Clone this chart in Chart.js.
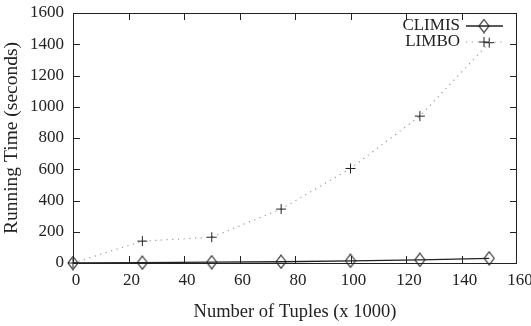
<!DOCTYPE html>
<html>
<head>
<meta charset="utf-8">
<script src="https://cdn.jsdelivr.net/npm/chart.js@4"></script>
<style>
  html, body { margin: 0; padding: 0; background: #fff; }
  #wrap { width: 531px; height: 326px; }
</style>
</head>
<body>
<div id="wrap"><canvas id="c" width="531" height="326"></canvas></div>
<script>
// tuples (x 1000) vs running time in seconds
const tuples = [0, 25, 50, 75, 100, 125, 150];
const climis = [0, 2, 5, 8, 14, 20, 30];
const limbo = [0, 140, 165, 345, 605, 940, 1410];
const seriesNames = ['CLIMIS', 'LIMBO'];
const xTicks = { min: 0, max: 160, step: 20 };
const yTicks = { min: 0, max: 1600, step: 200 };

const FONT = '"Liberation Serif", "DejaVu Serif", serif';
const INK = '#222';

// gnuplot-like open diamond, a bit taller than wide
function diamond(w, h) {
  const cv = document.createElement('canvas');
  cv.width = w + 2; cv.height = h + 2;
  const g = cv.getContext('2d');
  g.strokeStyle = INK;
  g.lineWidth = 1.1;
  g.beginPath();
  g.moveTo(cv.width / 2, 1);
  g.lineTo(cv.width - 1, cv.height / 2);
  g.lineTo(cv.width / 2, cv.height - 1);
  g.lineTo(1, cv.height / 2);
  g.closePath();
  g.stroke();
  return cv;
}
const diamondImg = diamond(10, 13);

const pts = (ys) => tuples.map((x, i) => ({ x, y: ys[i] }));

// border box, inward mirrored ticks, and the legend in the top right
const gnuplotFrame = {
  id: 'gnuplotFrame',
  afterDatasetsDraw(chart) {
    const { ctx, chartArea: a, scales } = chart;
    ctx.save();
    ctx.strokeStyle = INK;
    ctx.lineWidth = 1;
    ctx.strokeRect(a.left + 0.5, a.top + 0.5, a.right - a.left - 1, a.bottom - a.top);
    const L = 7;
    ctx.beginPath();
    for (let v = xTicks.min + xTicks.step; v < xTicks.max; v += xTicks.step) {
      const px = Math.round(scales.x.getPixelForValue(v)) + 0.5;
      ctx.moveTo(px, a.bottom); ctx.lineTo(px, a.bottom - L);
      ctx.moveTo(px, a.top); ctx.lineTo(px, a.top + L);
    }
    for (let v = yTicks.min + yTicks.step; v < yTicks.max; v += yTicks.step) {
      const py = Math.round(scales.y.getPixelForValue(v)) + 0.5;
      ctx.moveTo(a.left, py); ctx.lineTo(a.left + L, py);
      ctx.moveTo(a.right, py); ctx.lineTo(a.right - L, py);
    }
    ctx.stroke();

    // legend
    ctx.font = '17px ' + FONT;
    ctx.fillStyle = INK;
    ctx.textAlign = 'right';
    ctx.textBaseline = 'middle';
    const tx = 460, x0 = 466, x1 = 503, xm = 484;
    const rows = [26, 42];
    chart.data.datasets.forEach((ds, i) => {
      const y = rows[i];
      ctx.fillText(seriesNames[i], tx, y);
      ctx.save();
      ctx.strokeStyle = ds.borderColor;
      ctx.lineWidth = ds.borderWidth;
      ctx.setLineDash(ds.borderDash || []);
      ctx.beginPath();
      ctx.moveTo(x0, y); ctx.lineTo(x1, y);
      ctx.stroke();
      ctx.restore();
      if (i === 0) {
        ctx.drawImage(diamondImg, xm - diamondImg.width / 2, y - diamondImg.height / 2);
      } else {
        ctx.beginPath();
        ctx.strokeStyle = INK;
        ctx.moveTo(xm - 5, y); ctx.lineTo(xm + 5, y);
        ctx.moveTo(xm, y - 5); ctx.lineTo(xm, y + 5);
        ctx.stroke();
      }
    });
    ctx.restore();
  }
};

new Chart(document.getElementById('c'), {
  type: 'line',
  data: {
    datasets: [
      {
        label: seriesNames[0],
        data: pts(climis),
        borderColor: INK,
        borderWidth: 1.3,
        pointStyle: diamondImg,
        pointRadius: 6,
        clip: false,
        tension: 0,
      },
      {
        label: seriesNames[1],
        data: pts(limbo),
        borderColor: '#9a9a9a',
        borderWidth: 1.2,
        borderDash: [1.2, 4.5],
        pointStyle: 'cross',
        pointRadius: 5,
        pointBorderColor: INK,
        pointBorderWidth: 1,
        clip: false,
        tension: 0,
      },
    ],
  },
  options: {
    responsive: false,
    animation: false,
    layout: { padding: { top: 13, right: 14, left: 0, bottom: 0 } },
    plugins: { legend: { display: false }, tooltip: { enabled: false } },
    scales: {
      x: {
        type: 'linear',
        min: xTicks.min, max: xTicks.max,
        grid: { display: false, drawTicks: false },
        border: { display: false },
        ticks: { stepSize: xTicks.step, color: INK, padding: 7, maxRotation: 0, labelOffset: 3,
                 callback: (v) => String(v), font: { family: FONT, size: 17 } },
        title: { display: true, text: 'Number of Tuples (x 1000)', color: INK, font: { family: FONT, size: 18.5 }, padding: { top: 0, bottom: 3 } },
        afterFit(s) { s.height = 63; s.paddingLeft = 0; s.paddingRight = 0; },
      },
      y: {
        min: yTicks.min, max: yTicks.max,
        grid: { display: false, drawTicks: false },
        border: { display: false },
        ticks: { stepSize: yTicks.step, color: INK, padding: 9, callback: (v) => String(v), font: { family: FONT, size: 17 } },
        title: { display: true, text: 'Running Time (seconds)', color: INK, font: { family: FONT, size: 19.5 }, padding: { top: 0, bottom: 0 } },
        afterFit(s) { s.width = 73; s.paddingTop = 0; s.paddingBottom = 0; },
      },
    },
  },
  plugins: [gnuplotFrame],
});
</script>
</body>
</html>
